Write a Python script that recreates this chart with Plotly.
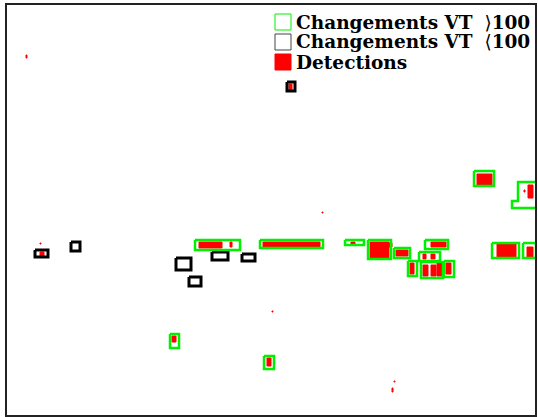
import plotly.graph_objects as go

# Green rectangles: changes VT > 100  (x0, x1, y0, y1) in image pixel units
green_x0 = [195, 260, 345, 368, 394, 425, 419, 408, 421, 444, 474, 492, 523, 170, 264]
green_x1 = [240, 323, 364, 391, 410, 448, 440, 417, 443, 454, 494, 519, 536, 179, 274]
green_y0 = [240, 240, 240, 240, 248, 240, 252, 261, 262, 261, 171, 243, 243, 334, 356]
green_y1 = [250, 248, 245, 259, 258, 249, 261, 276, 278, 277, 186, 258, 258, 348, 369]

# Irregular green outline (right edge)
green_poly_x = [536, 518, 518, 512, 512, 536]
green_poly_y = [182, 182, 201, 201, 208, 208]

# Black rectangles: changes VT < 100
black_x0 = [287, 35, 71, 176, 212, 242, 189]
black_x1 = [295, 48, 80, 191, 228, 255, 201]
black_y0 = [82, 250, 242, 258, 252, 254, 277]
black_y1 = [91, 257, 251, 270, 260, 261, 286]

# Red detections (approximate blobs)
red_x0 = [289, 40, 40, 26, 199, 230, 263, 351, 370, 389, 396, 431, 423, 431, 410, 423, 431, 437, 446, 477, 528, 524, 497, 527, 172, 267, 322, 272, 394, 392]
red_x1 = [292, 44, 41, 27, 222, 232, 320, 355, 389, 392, 408, 446, 426, 435, 414, 428, 436, 442, 451, 492, 533, 525, 516, 533, 176, 271, 323, 273, 395, 393]
red_y0 = [84, 252, 243, 55, 242, 242, 242, 242, 242, 243, 250, 242, 254, 254, 263, 265, 265, 263, 263, 174, 185, 190, 244, 247, 336, 358, 212, 311, 381, 388]
red_y1 = [90, 256, 244, 58, 248, 247, 247, 244, 258, 247, 256, 247, 259, 259, 274, 276, 276, 276, 274, 185, 198, 192, 257, 257, 342, 366, 213, 312, 382, 392]

legend_prefix = ["Changements VT", "Changements VT", "Detections"]
legend_bracket = ["\u27e9", "\u27e8", ""]
legend_suffix = ["100", "100", ""]


def rect_path(x0s, x1s, y0s, y1s):
    xs, ys = [], []
    for a, b, c, d in zip(x0s, x1s, y0s, y1s):
        xs += [a, b, b, a, a, None]
        ys += [c, c, d, d, c, None]
    return xs, ys


fig = go.Figure()

rx, ry = rect_path(red_x0, red_x1, red_y0, red_y1)
fig.add_trace(go.Scatter(x=rx, y=ry, mode="lines", fill="toself",
                         fillcolor="#ff0000", line=dict(color="#ff0000", width=1),
                         showlegend=False, hoverinfo="skip"))

bx, by = rect_path(black_x0, black_x1, black_y0, black_y1)
fig.add_trace(go.Scatter(x=bx, y=by, mode="lines",
                         line=dict(color="#000000", width=3),
                         showlegend=False, hoverinfo="skip"))

gx, gy = rect_path(green_x0, green_x1, green_y0, green_y1)
gx += green_poly_x + [None]
gy += green_poly_y + [None]
fig.add_trace(go.Scatter(x=gx, y=gy, mode="lines",
                         line=dict(color="#00f000", width=2.5),
                         showlegend=False, hoverinfo="skip"))

# Manual legend (paper coordinates)
W, H = 538, 417
ml, mr, mt, mb = 7, 3, 5, 2
pw, ph = W - ml - mr, H - mt - mb


def px(x):
    return (x - ml) / pw


def py(y):
    return 1 - (y - mt) / ph


key_styles = [
    dict(line=dict(color="#00ee00", width=1), fillcolor="white"),
    dict(line=dict(color="#444444", width=1), fillcolor="white"),
    dict(line=dict(color="#ff0000", width=1), fillcolor="#ff0000"),
]
tops = [14, 34, 54]
for i in range(3):
    t = tops[i]
    fig.add_shape(type="rect", xref="paper", yref="paper",
                  x0=px(275), x1=px(291), y0=py(t), y1=py(t + 16), **key_styles[i])
    txt = "<b>" + legend_prefix[i] + "</b>"
    if legend_bracket[i]:
        txt += ("  <span style='font-family:DejaVu Sans;font-weight:normal'>"
                + legend_bracket[i] + "</span><b>" + legend_suffix[i] + "</b>")
    fig.add_annotation(xref="paper", yref="paper", x=px(294), y=py(t + 8),
                       xanchor="left", yanchor="middle", showarrow=False,
                       text=txt,
                       font=dict(family="DejaVu Serif", size=18.5, color="black"))

fig.update_xaxes(range=[7, 535], showgrid=False, zeroline=False, showticklabels=False,
                 ticks="", showline=True, mirror=True, linecolor="#222222", linewidth=2)
fig.update_yaxes(range=[415, 5], showgrid=False, zeroline=False, showticklabels=False,
                 ticks="", showline=True, mirror=True, linecolor="#222222", linewidth=2)
fig.update_layout(width=W, height=H, margin=dict(l=ml, r=mr, t=mt, b=mb),
                  plot_bgcolor="white", paper_bgcolor="white", showlegend=False)

fig.write_html("out.html", config={"displayModeBar": False},
               post_script="document.body.style.margin='0px';document.body.style.overflow='hidden';")
